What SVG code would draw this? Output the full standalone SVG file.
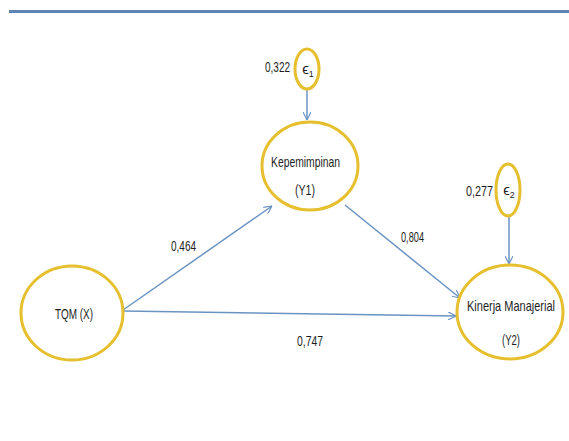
<svg xmlns="http://www.w3.org/2000/svg" width="569" height="441" viewBox="0 0 569 441">
<style>
.node ellipse{fill:#fff;stroke:#e6bf2e;stroke-width:3}
.lbl{font-family:"Liberation Sans",Arial,sans-serif;font-size:15px;fill:#1e1e1e;text-anchor:middle}
.conn line{stroke:#6b93c2;stroke-width:1.5;fill:none;marker-end:url(#ah)}
</style>
<defs>
<marker id="ah" viewBox="0 0 10 10" refX="10" refY="5" markerWidth="8" markerHeight="8" orient="auto" markerUnits="userSpaceOnUse">
<path d="M0,0 L10,5 L0,10" fill="none" stroke="#6b93c2" stroke-width="1.5"/>
</marker>
</defs>
<rect width="569" height="441" fill="#fff"/>
<line x1="9" y1="11.5" x2="569" y2="11.5" stroke="#5f83b3" stroke-width="3"/>
<g class="conn">
<line x1="307" y1="90" x2="307" y2="120"/>
<line x1="509" y1="217" x2="509" y2="264"/>
<line x1="123" y1="310" x2="272" y2="206"/>
<line x1="345" y1="205" x2="460" y2="298"/>
<line x1="123" y1="311" x2="456" y2="316"/>
</g>
<g id="e1" class="node">
<ellipse cx="307" cy="69" rx="12" ry="20"/>
<text class="lbl" x="308" y="74" font-size="13">ϵ<tspan font-size="9" dy="3">1</tspan></text>
</g>
<text class="lbl" x="277.5" y="72" textLength="25" lengthAdjust="spacingAndGlyphs">0,322</text>
<g id="y1" class="node">
<ellipse cx="310" cy="166" rx="48" ry="44"/>
<text class="lbl" x="305.5" y="167" textLength="69" lengthAdjust="spacingAndGlyphs">Kepemimpinan</text>
<text class="lbl" x="305" y="195" textLength="20" lengthAdjust="spacingAndGlyphs">(Y1)</text>
</g>
<g id="x" class="node">
<ellipse cx="72" cy="313" rx="51" ry="47"/>
<text class="lbl" x="74" y="319" textLength="38" lengthAdjust="spacingAndGlyphs">TQM (X)</text>
</g>
<g id="y2" class="node">
<ellipse cx="510" cy="312" rx="53" ry="47"/>
<text class="lbl" x="511" y="311" textLength="88" lengthAdjust="spacingAndGlyphs">Kinerja Manajerial</text>
<text class="lbl" x="511" y="345" textLength="18" lengthAdjust="spacingAndGlyphs">(Y2)</text>
</g>
<g id="e2" class="node">
<ellipse cx="508" cy="190" rx="12" ry="26"/>
<text class="lbl" x="509" y="195" font-size="13">ϵ<tspan font-size="9" dy="3">2</tspan></text>
</g>
<text class="lbl" x="479.5" y="196" textLength="27" lengthAdjust="spacingAndGlyphs">0,277</text>
<text class="lbl" x="183.5" y="251" textLength="25" lengthAdjust="spacingAndGlyphs">0,464</text>
<text class="lbl" x="412.5" y="242" textLength="23" lengthAdjust="spacingAndGlyphs">0,804</text>
<text class="lbl" x="310" y="346" textLength="26" lengthAdjust="spacingAndGlyphs">0,747</text>
</svg>
